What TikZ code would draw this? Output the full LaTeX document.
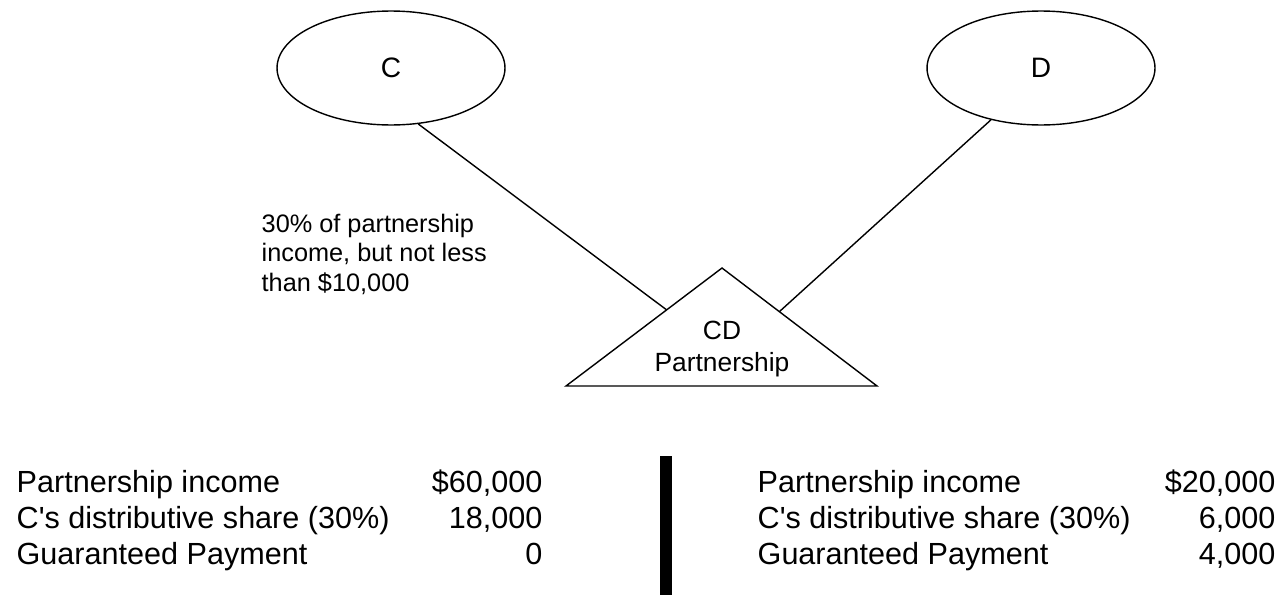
\documentclass[tikz,border=0pt]{standalone}
\usepackage{fontspec}
\setmainfont{Liberation Sans}
\usetikzlibrary{positioning,shapes.geometric,calc}

\begin{document}
\begin{tikzpicture}[x=0.02cm,y=-0.02cm,line width=0.8pt]
  \tikzstyle{owner}=[ellipse,draw,minimum width=4.56cm,minimum height=2.28cm,font=\fontsize{16}{18}\selectfont]
  \tikzstyle{item}=[anchor=base west,inner sep=0pt,font=\fontsize{17.4}{20}\selectfont]
  \tikzstyle{amount}=[anchor=base east,inner sep=0pt,font=\fontsize{17.4}{20}\selectfont]
  \useasboundingbox (0,0) rectangle (1280,595);

  % partners
  \node[owner] (c) at (391,68) {C};
  \node[owner] (d) at (1041,68) {D};

  % partnership
  \coordinate (top) at (722,268);
  \coordinate (bl) at (566,386);
  \coordinate (br) at (877,386);
  \draw (top) -- (bl) -- (br) -- cycle;
  \node[align=center,font=\fontsize{15}{18}\selectfont] (cd) at (722,349) {CD\\Partnership};
  \coordinate (cin) at ($(top)!0.355!(bl)$);
  \coordinate (din) at ($(top)!0.37!(br)$);

  \draw (c.-64) -- (cin);
  \draw (d.-134) -- (din);

  \node[anchor=north west,align=left,inner sep=0pt,font=\fontsize{14.4}{16.8}\selectfont] (terms) at (261,213) {30\% of partnership\\income, but not less\\than \$10,000};

  % left case
  \node[item] (inc1) at (16,492) {Partnership income};
  \node[item] (share1) at (16,528) {C\textquotesingle s distributive share (30\%)};
  \node[item] (gp1) at (16,564) {Guaranteed Payment};
  \node[amount] (incv1) at (543,492) {\$60,000};
  \node[amount] (sharev1) at (543,528) {18,000};
  \node[amount] (gpv1) at (543,564) {0};

  \fill (660,456) rectangle (672,595);

  % right case
  \node[item] (inc2) at (757,492) {Partnership income};
  \node[item] (share2) at (757,528) {C\textquotesingle s distributive share (30\%)};
  \node[item] (gp2) at (757,564) {Guaranteed Payment};
  \node[amount] (incv2) at (1276,492) {\$20,000};
  \node[amount] (sharev2) at (1276,528) {6,000};
  \node[amount] (gpv2) at (1276,564) {4,000};
\end{tikzpicture}
\end{document}
